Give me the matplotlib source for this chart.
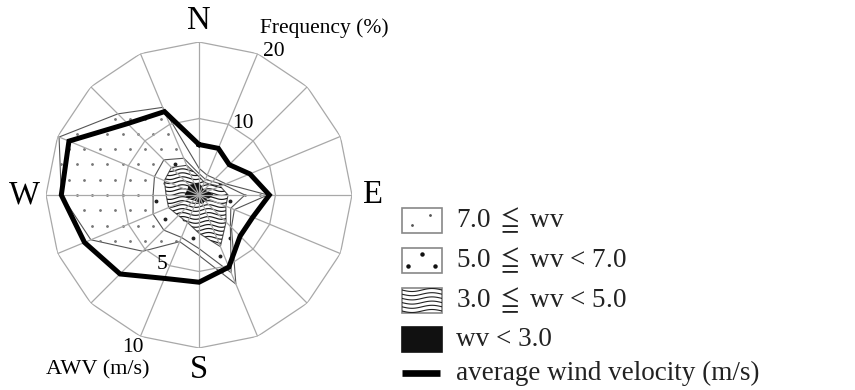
import numpy as np
import matplotlib
matplotlib.use('Agg')
import matplotlib.pyplot as plt
from matplotlib.patches import Rectangle

# ---------------- data ----------------
directions = ['N', 'NNE', 'NE', 'ENE', 'E', 'ESE', 'SE', 'SSE',
              'S', 'SSW', 'SW', 'WSW', 'W', 'WNW', 'NW', 'NNW']
# frequency (%) of each wind-velocity class per direction
freq_lt3 = [1.5, 1.0, 0.9, 1.2, 1.8, 1.2, 1.0, 1.2, 0.9, 0.8, 0.9, 1.3, 1.8, 1.6, 1.8, 1.5]
freq_3to5 = [0.9, 0.8, 1.1, 1.8, 2.0, 2.6, 4.0, 6.1, 4.1, 3.1, 2.9, 3.0, 2.5, 3.3, 3.3, 2.7]
freq_5to7 = [0.4, 0.4, 0.5, 0.5, 2.2, 0.7, 0.8, 3.7, 2.0, 2.1, 2.7, 2.2, 1.7, 1.4, 1.4, 1.0]
freq_ge7 = [0.7, 0.6, 0.5, 0.3, 3.0, 0.5, 0.2, 1.6, 0.9, 0.6, 3.9, 8.8, 12.0, 13.5, 8.5, 7.2]
# average wind velocity (m/s)
awv = [3.3, 3.3, 2.8, 3.6, 4.6, 3.8, 3.8, 5.1, 5.7, 5.9, 7.3, 8.1, 9.0, 9.2, 6.6, 5.9]

freq_ticks = [10, 20]
awv_ticks = [5, 10]
freq_max = 20
awv_max = 10
compass_labels = {'N': 0, 'E': 90, 'S': 180, 'W': 270}
legend_labels = [r'7.0 $\leqq$ wv', r'5.0 $\leqq$ wv < 7.0', r'3.0 $\leqq$ wv < 5.0',
                 'wv < 3.0', 'average wind velocity (m/s)']

# ---------------- setup ----------------
SERIF = ['Liberation Serif', 'DejaVu Serif']
plt.rcParams['font.family'] = SERIF
plt.rcParams['mathtext.fontset'] = 'stix'

W_PX, H_PX = 855, 390
fig = plt.figure(figsize=(W_PX / 100, H_PX / 100), dpi=100)

# overlay axes in pixel coordinates for legend
lax = fig.add_axes([0, 0, 1, 1])
lax.set_xlim(0, W_PX)
lax.set_ylim(H_PX, 0)
lax.axis('off')

cx, cy, R = 199, 195, 153
ax = fig.add_axes([(cx - R) / W_PX, (H_PX - cy - R) / H_PX, 2 * R / W_PX, 2 * R / H_PX],
                  projection='polar')
ax.set_theta_zero_location('N')
ax.set_theta_direction(-1)
ax.set_ylim(0, freq_max)
ax.grid(False)
ax.set_xticks([])
ax.set_yticks([])
ax.spines['polar'].set_visible(False)
ax.patch.set_alpha(0)

n = len(directions)
theta = np.deg2rad(np.arange(n) * 360.0 / n)

lt3 = np.array(freq_lt3)
lt5 = lt3 + np.array(freq_3to5)
lt7 = lt5 + np.array(freq_5to7)
tot = lt7 + np.array(freq_ge7)

edge = '#555555'
# outermost class (>= 7.0)
p_tot = ax.fill(theta, tot, facecolor='white', edgecolor=edge, lw=0.8, zorder=1)[0]
gx, gy = np.meshgrid(np.arange(0.0, 1.0, 0.05), np.arange(0.0, 1.0, 0.05))
gx = gx + (np.arange(gx.shape[0])[:, None] % 2) * 0.025
d1 = ax.plot(gx.ravel(), gy.ravel(), ls='none', marker='o', ms=1.0, color='#777777',
             transform=ax.transAxes, zorder=1.1)[0]
d1.set_clip_path(p_tot)

# 5.0-7.0
p_57 = ax.fill(theta, lt7, facecolor='white', edgecolor=edge, lw=0.8, zorder=1.2)[0]
hx, hy = np.meshgrid(np.arange(0.0, 1.0, 0.06), np.arange(0.0, 1.0, 0.06))
hx = hx + (np.arange(hx.shape[0])[:, None] % 2) * 0.03
d2 = ax.plot(hx.ravel(), hy.ravel(), ls='none', marker='o', ms=1.8, color='#222222',
             transform=ax.transAxes, zorder=1.3)[0]
d2.set_clip_path(p_57)

# 3.0-5.0 wavy hatch
p_35 = ax.fill(theta, lt5, facecolor='white', edgecolor=edge, lw=0.8, zorder=1.4)[0]
xs = np.linspace(0.1, 0.9, 300)
for y0 in np.arange(0.1, 0.9, 0.013):
    ln = ax.plot(xs, y0 + 0.0045 * np.sin(2 * np.pi * xs / 0.085), color='#1a1a1a', lw=0.85,
                 transform=ax.transAxes, zorder=1.5)[0]
    ln.set_clip_path(p_35)

# < 3.0 black
ax.fill(theta, lt3, facecolor='#111111', edgecolor='#111111', lw=0.8, zorder=1.6)

# grid: 16-gon rings and radial lines
grid_c = '#a8a8a8'
th_closed = np.append(theta, theta[0])
for rt in freq_ticks:
    ax.plot(th_closed, np.full(n + 1, rt), color=grid_c, lw=0.9, zorder=2)
for t in theta:
    ax.plot([t, t], [0, freq_max], color=grid_c, lw=0.9, zorder=2)

# average wind velocity line (scaled so awv_max sits on outer ring)
awv_r = np.array(awv) * freq_max / awv_max
ax.plot(th_closed, np.append(awv_r, awv_r[0]), color='black', lw=3.6, zorder=3,
        solid_joinstyle='miter')

# compass labels
for lab, ang in compass_labels.items():
    ax.text(np.deg2rad(ang), 22.8, lab, fontsize=23.5, ha='center', va='center')

# frequency tick labels
ax.text(np.deg2rad(31.4), 11.0, str(freq_ticks[0]), fontsize=15.5, ha='center', va='center')
ax.text(np.deg2rad(27.4), 21.2, str(freq_ticks[1]), fontsize=15.5, ha='center', va='center')
ax.text(np.deg2rad(36.9), 27.2, 'Frequency (%)', fontsize=15.5, ha='center', va='center')
# AWV tick labels
ax.text(np.deg2rad(207.9), awv_ticks[0] * freq_max / awv_max + 0.3, str(awv_ticks[0]),
        fontsize=15.5, ha='center', va='center')
ax.text(np.deg2rad(203.5), awv_ticks[1] * freq_max / awv_max + 1.7, str(awv_ticks[1]),
        fontsize=15.5, ha='center', va='center')
ax.text(np.deg2rad(210.1), 26.4, 'AWV (m/s)', fontsize=16, ha='center', va='center')

# ---------------- legend ----------------
bx, bw, bh = 402, 40, 25
centers = [220.5, 260, 300, 339.5, 373]
tx = 456
box_edge = '#888888'
r1 = Rectangle((bx, centers[0] - bh / 2), bw, bh, facecolor='white', edgecolor=box_edge, lw=1.2)
lax.add_patch(r1)
lax.plot([bx + 10, bx + 28], [centers[0] + 4, centers[0] - 6], ls='none', marker='o',
         ms=1.0, color='#555555')
r2 = Rectangle((bx, centers[1] - bh / 2), bw, bh, facecolor='white', edgecolor=box_edge, lw=1.2)
lax.add_patch(r2)
lax.plot([bx + 6, bx + 20, bx + 33], [centers[1] + 6, centers[1] - 6, centers[1] + 6],
         ls='none', marker='o', ms=2.2, color='#111111')
r3 = Rectangle((bx, centers[2] - bh / 2), bw, bh, facecolor='white', edgecolor=box_edge, lw=1.2)
lax.add_patch(r3)
wx = np.linspace(bx, bx + bw, 100)
for k in range(6):
    y0 = centers[2] - bh / 2 + 2.5 + k * 4.2
    wl = lax.plot(wx, y0 + 1.5 * np.sin(2 * np.pi * (wx - bx) / 40.0), color='#222222', lw=0.8)[0]
    wl.set_clip_path(r3)
lax.add_patch(Rectangle((bx, centers[3] - bh / 2), bw, bh, facecolor='#111111',
                        edgecolor='#111111', lw=1.2))
lax.plot([bx, bx + 38], [centers[4], centers[4]], color='black', lw=4.8, solid_capstyle='butt')

for lab, yc in zip(legend_labels, centers):
    lax.text(tx, yc, lab, fontsize=19.5, ha='left', va='center', color='#222222')

fig.savefig('out.png', dpi=100)
